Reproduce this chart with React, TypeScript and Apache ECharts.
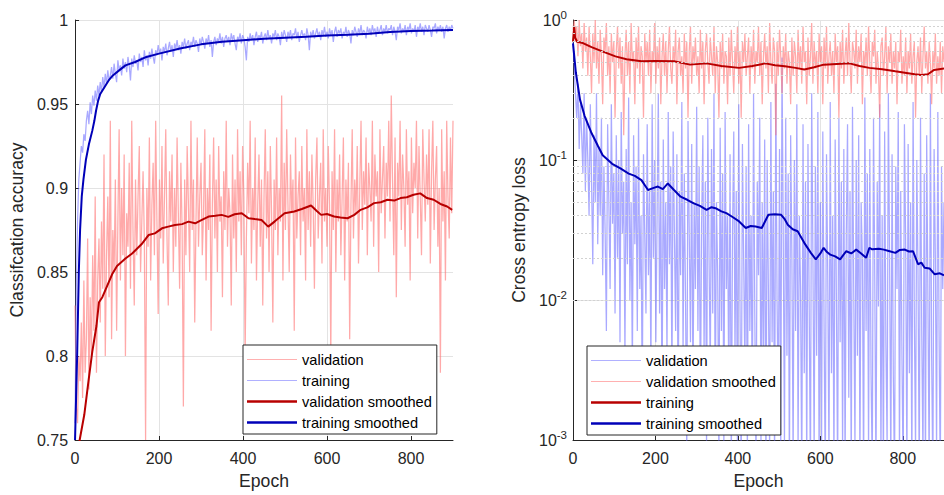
import React, { useEffect, useRef } from "react";
import * as echarts from "echarts";

const FONT = "'Liberation Sans', Arial, sans-serif";
const TXT = "#262626";

// x ticks shared by both panels
const epochTicks: number[] = [0, 200, 400, 600, 800];

// epochs of the raw (noisy) curves, sampled every 3 epochs (0..900)
const rawEpochs: number[] = Array.from({ length: 301 }, (_, i) => i * 3);

// ---------- left panel: classification accuracy (values in 1/1000) ----------
const accTrainPm: number[] = [
  760, 840, 880, 905, 915, 925, 921, 932, 928, 940,
  946, 938, 951, 944, 955, 949, 958, 952, 961, 955,
  963, 957, 966, 960, 968, 962, 970, 964, 967, 972,
  965, 974, 968, 963, 976, 970, 973, 967, 977, 971,
  975, 969, 978, 973, 964, 977, 972, 979, 974, 976,
  970, 980, 975, 978, 972, 982, 976, 979, 973, 981,
  977, 983, 978, 974, 982, 979, 985, 980, 983, 976,
  984, 981, 986, 979, 983, 987, 981, 985, 978, 986,
  983, 988, 982, 985, 980, 987, 984, 989, 983, 986,
  988, 982, 987, 985, 990, 984, 988, 986, 981, 989,
  985, 990, 987, 983, 989, 986, 991, 984, 988, 978,
  987, 990, 985, 989, 987, 992, 986, 990, 984, 989,
  991, 987, 990, 985, 992, 988, 991, 986, 982, 990,
  988, 992, 986, 991, 989, 984, 976, 990, 987, 992,
  988, 991, 985, 990, 993, 987, 991, 989, 993, 986,
  990, 992, 988, 994, 989, 991, 986, 992, 990, 994,
  988, 992, 990, 985, 993, 989, 994, 991, 987, 993,
  990, 994, 988, 992, 991, 995, 989, 993, 987, 991,
  994, 990, 992, 988, 995, 991, 982, 993, 990, 994,
  989, 992, 995, 990, 993, 988, 994, 991, 996, 990,
  993, 989, 995, 991, 994, 987, 993, 996, 990, 994,
  992, 995, 989, 993, 991, 996, 990, 994, 992, 986,
  994, 991, 996, 993, 990, 995, 992, 997, 991, 994,
  993, 989, 996, 992, 995, 991, 997, 993, 995, 990,
  996, 992, 994, 997, 991, 995, 993, 997, 992, 995,
  994, 997, 991, 996, 993, 988, 996, 994, 998, 992,
  995, 993, 997, 991, 996, 994, 998, 992, 995, 993,
  997, 990, 996, 994, 998, 993, 996, 991, 997, 995,
  993, 997, 994, 990, 996, 995, 998, 992, 996, 994,
  997, 993, 996, 989, 995, 997, 993, 996, 994, 997,
  995,
];

const accValPm: number[] = [
  830, 770, 760, 800, 785, 820, 775, 845, 790, 810,
  870, 780, 835, 800, 860, 815, 895, 790, 845, 870,
  820, 880, 840, 920, 800, 860, 895, 835, 940, 810,
  875, 850, 905, 815, 880, 935, 845, 900, 860, 920,
  800, 885, 865, 915, 840, 940, 875, 830, 905, 860,
  895, 925, 850, 880, 910, 870, 750, 900, 865, 930,
  845, 890, 915, 860, 940, 880, 825, 905, 870, 925,
  855, 895, 935, 870, 830, 910, 880, 920, 850, 900,
  865, 930, 885, 840, 915, 875, 770, 905, 860, 925,
  890, 850, 940, 875, 905, 820, 880, 930, 865, 895,
  915, 860, 885, 935, 845, 900, 875, 920, 815, 890,
  930, 870, 905, 850, 925, 880, 895, 835, 910, 875,
  940, 865, 900, 885, 830, 920, 870, 905, 850, 935,
  880, 910, 860, 925, 895, 800, 870, 915, 885, 940,
  855, 900, 875, 930, 845, 890, 920, 865, 905, 830,
  895, 935, 870, 910, 850, 925, 885, 820, 905, 875,
  930, 860, 900, 880, 955, 845, 915, 875, 935, 890,
  850, 920, 885, 905, 815, 930, 870, 895, 910, 860,
  925, 880, 900, 845, 935, 875, 910, 865, 920, 890,
  840, 905, 930, 870, 895, 915, 855, 935, 880, 900,
  865, 925, 890, 800, 910, 875, 935, 850, 905, 880,
  920, 860, 895, 930, 845, 905, 880, 915, 810, 890,
  935, 870, 905, 885, 925, 855, 900, 940, 875, 910,
  890, 930, 860, 915, 900, 880, 940, 865, 920, 895,
  910, 850, 935, 885, 905, 925, 870, 915, 895, 940,
  880, 955, 905, 860, 930, 835, 915, 895, 940, 875,
  920, 900, 865, 935, 890, 910, 845, 930, 885, 915,
  900, 940, 870, 925, 895, 860, 935, 905, 880, 920,
  890, 935, 855, 910, 940, 875, 905, 925, 865, 900,
  790, 935, 880, 910, 845, 940, 895, 870, 930, 885,
  940,
];

const accValSmEpochs: number[] = [
  8, 11, 22, 32, 41, 51, 57, 65, 77, 89, 100, 120, 136, 160, 175, 190, 207, 222, 238, 255,
  270, 286, 302, 318, 334, 349, 365, 380, 397, 413, 428, 444, 460, 475, 499, 522, 540, 562,
  575, 586, 600, 617, 632, 649, 665, 680, 696, 712, 728, 744, 760, 775, 790, 806, 822, 838,
  854, 870, 886, 898,
];
const accValSm: number[] = [
  0.74, 0.75, 0.765, 0.785, 0.8025, 0.818, 0.832, 0.835, 0.842, 0.849, 0.8536, 0.858, 0.861,
  0.867, 0.872, 0.873, 0.876, 0.877, 0.878, 0.8785, 0.88, 0.879, 0.881, 0.883, 0.8835, 0.884,
  0.8828, 0.8844, 0.885, 0.882, 0.8815, 0.881, 0.877, 0.88, 0.885, 0.886, 0.8875, 0.8896,
  0.8865, 0.884, 0.8845, 0.883, 0.8825, 0.882, 0.884, 0.887, 0.8885, 0.891, 0.8915, 0.893,
  0.8925, 0.894, 0.8945, 0.896, 0.8968, 0.894, 0.893, 0.8905, 0.889, 0.887,
];

const accTrainSmEpochs: number[] = [
  0, 5, 9, 12, 16, 20, 26, 33, 41, 46, 50, 55, 60, 70, 80, 90, 105, 120, 143, 170, 200,
  250, 300, 350, 400, 450, 500, 550, 600, 650, 700, 750, 800, 850, 900,
];
const accTrainSm: number[] = [
  0.75, 0.8, 0.85, 0.875, 0.895, 0.905, 0.917, 0.926, 0.934, 0.94, 0.946, 0.952, 0.956, 0.96,
  0.964, 0.967, 0.97, 0.973, 0.975, 0.978, 0.98, 0.983, 0.9855, 0.987, 0.988, 0.9888, 0.9895,
  0.99, 0.9908, 0.9912, 0.9918, 0.9928, 0.9935, 0.9937, 0.994,
];

// ---------- right panel: cross entropy loss ----------
const lossVal: number[] = [
  0.7, 0.45, 0.3, 0.2, 0.35, 0.12, 0.25, 0.15, 0.08, 0.3,
  0.06, 0.2, 0.1, 0.04, 0.25, 0.07, 0.018, 0.15, 0.05, 0.3,
  0.025, 0.12, 0.04, 0.2, 0.015, 0.09, 0.03, 0.006, 0.18, 0.05,
  0.012, 0.25, 0.035, 0.08, 0.008, 0.15, 0.02, 0.1, 0.005, 0.22,
  0.03, 0.07, 0.004, 0.12, 0.018, 0.28, 0.01, 0.05, 0.003, 0.15,
  0.025, 0.09, 0.006, 0.2, 0.012, 0.04, 0.0018, 0.11, 0.03, 0.008,
  0.18, 0.015, 0.06, 0.003, 0.25, 0.02, 0.1, 0.005, 0.04, 0.3,
  0.008, 0.07, 0.0015, 0.14, 0.012, 0.05, 0.004, 0.22, 0.018, 0.09,
  0.0025, 0.16, 0.03, 0.006, 0.11, 0.0012, 0.06, 0.015, 0.26, 0.004,
  0.08, 0.01, 0.0008, 0.19, 0.03, 0.005, 0.13, 0.002, 0.05, 0.012,
  0.24, 0.006, 0.09, 0.0015, 0.035, 0.15, 0.004, 0.07, 0.0009, 0.2,
  0.02, 0.003, 0.12, 0.008, 0.3, 0.0012, 0.05, 0.015, 0.0007, 0.17,
  0.006, 0.08, 0.0009, 0.22, 0.012, 0.04, 0.002, 0.11, 0.0006, 0.03,
  0.16, 0.004, 0.06, 0.0008, 0.25, 0.01, 0.0005, 0.13, 0.02, 0.003,
  0.09, 0.0007, 0.18, 0.006, 0.04, 0.0012, 0.3, 0.008, 0.0006, 0.07,
  0.015, 0.2, 0.0009, 0.05, 0.003, 0.14, 0.0005, 0.1, 0.012, 0.0008,
  0.26, 0.005, 0.06, 0.0006, 0.35, 0.01, 0.0015, 0.12, 0.0007, 0.54,
  0.03, 0.0009, 0.2, 0.004, 0.08, 0.0005, 0.15, 0.02, 0.0007, 0.1,
  0.006, 0.25, 0.0008, 0.04, 0.012, 0.0005, 0.18, 0.003, 0.07, 0.0006,
  0.13, 0.009, 0.0005, 0.3, 0.02, 0.0008, 0.09, 0.004, 0.22, 0.0006,
  0.05, 0.0009, 0.16, 0.007, 0.0005, 0.11, 0.015, 0.0007, 0.26, 0.003,
  0.04, 0.0006, 0.14, 0.01, 0.0005, 0.2, 0.005, 0.07, 0.0008, 0.12,
  0.0006, 0.03, 0.18, 0.002, 0.06, 0.0005, 0.24, 0.012, 0.0009, 0.1,
  0.004, 0.15, 0.0006, 0.05, 0.02, 0.0005, 0.28, 0.006, 0.08, 0.0008,
  0.12, 0.003, 0.0006, 0.2, 0.015, 0.0005, 0.07, 0.009, 0.25, 0.0007,
  0.04, 0.0005, 0.16, 0.005, 0.0009, 0.3, 0.02, 0.0006, 0.11, 0.003,
  0.0005, 0.09, 0.012, 0.22, 0.0007, 0.06, 0.004, 0.0005, 0.18, 0.025,
  0.0006, 0.13, 0.003, 0.05, 0.0005, 0.26, 0.008, 0.0008, 0.1, 0.015,
  0.0005, 0.2, 0.006, 0.0007, 0.08, 0.0005, 0.15, 0.01, 0.0006, 0.3,
  0.004, 0.0005, 0.12, 0.02, 0.0008, 0.22, 0.006, 0.0005, 0.09, 0.012,
  0.05,
];

const lossValSmooth: number[] = [
  0.85, 1.0, 0.7, 0.9, 0.55, 1.0, 0.65, 0.8, 0.45, 0.95,
  0.6, 0.75, 0.4, 0.9, 0.55, 0.3, 0.8, 0.5, 1.0, 0.45,
  0.7, 0.35, 0.85, 0.55, 0.25, 0.75, 0.6, 0.95, 0.4, 0.65,
  0.3, 0.8, 0.5, 0.7, 0.2, 0.6, 0.9, 0.45, 0.75, 0.35,
  0.65, 0.15, 0.55, 0.85, 0.4, 0.7, 0.3, 0.95, 0.5, 0.6,
  0.25, 0.75, 0.45, 0.9, 0.35, 0.65, 0.55, 0.2, 0.8, 0.5,
  0.7, 0.4, 0.85, 0.3, 0.6, 0.5, 0.95, 0.35, 0.65, 0.45,
  0.75, 0.25, 0.55, 0.8, 0.4, 0.7, 0.3, 0.6, 0.9, 0.45,
  0.35, 0.65, 0.5, 0.85, 0.25, 0.6, 0.75, 0.4, 0.55, 0.3,
  0.8, 0.45, 0.7, 0.2, 0.6, 0.9, 0.35, 0.65, 0.5, 0.75,
  0.4, 0.55, 0.3, 0.85, 0.45, 0.7, 0.25, 0.6, 0.8, 0.5,
  0.35, 0.75, 0.55, 0.4, 0.9, 0.3, 0.65, 0.5, 0.2, 0.7,
  0.45, 0.8, 0.35, 0.6, 0.55, 0.25, 0.75, 0.4, 0.85, 0.5,
  0.3, 0.65, 0.45, 0.9, 0.35, 0.6, 0.2, 0.7, 0.5, 0.8,
  0.4, 0.55, 0.75, 0.3, 0.65, 0.45, 0.85, 0.35, 0.6, 0.5,
  0.9, 0.4, 0.7, 0.25, 0.55, 0.8, 0.45, 0.65, 0.3, 0.95,
  0.5, 0.35, 0.75, 0.6, 0.15, 0.7, 0.4, 0.85, 0.55, 0.3,
  0.65, 0.45, 0.8, 0.35, 0.6, 0.5, 0.25, 0.75, 0.4, 0.7,
  0.55, 0.3, 0.85, 0.45, 0.65, 0.35, 0.9, 0.5, 0.6, 0.25,
  0.75, 0.4, 0.55, 0.95, 0.35, 0.7, 0.45, 0.6, 0.3, 0.8,
  0.5, 0.65, 0.25, 0.75, 0.45, 0.9, 0.35, 0.55, 0.7, 0.4,
  0.6, 0.3, 0.8, 0.5, 0.65, 0.2, 0.7, 0.45, 0.85, 0.35,
  0.55, 0.75, 0.4, 0.95, 0.5, 0.3, 0.7, 0.6, 0.45, 0.85,
  0.35, 0.65, 0.5, 0.8, 0.25, 0.6, 0.45, 0.75, 0.4, 0.9,
  0.5, 0.3, 0.7, 0.55, 0.85, 0.35, 0.6, 0.45, 0.2, 0.65,
  0.75, 0.4, 0.55, 0.9, 0.3, 0.65, 0.5, 0.8, 0.35, 0.6,
  0.45, 0.7, 0.25, 0.6, 0.5, 0.85, 0.35, 0.55, 0.4, 0.75,
  0.3, 0.6, 0.45, 0.8, 0.35, 0.55, 0.7, 0.2, 0.5, 0.65,
  0.4, 0.75, 0.3, 0.55, 0.9, 0.45, 0.6, 0.35, 0.7, 0.5,
  0.25, 0.6, 0.45, 0.8, 0.35, 0.55, 0.4, 0.7, 0.3, 0.65,
  0.5,
];

const lossTrainEpochs: number[] = [
  0, 3, 5, 10, 24, 45, 71, 103, 130, 166, 200, 245, 284, 324, 360, 403, 435, 467, 490, 514,
  540, 561, 585, 608, 640, 671, 695, 719, 750, 782, 805, 829, 845, 861, 876, 900,
];
const lossTrain: number[] = [
  0.7, 0.9, 0.75, 0.7, 0.684, 0.64, 0.597, 0.55, 0.525, 0.507, 0.51, 0.507, 0.48, 0.49, 0.47,
  0.455, 0.47, 0.49, 0.475, 0.467, 0.455, 0.443, 0.46, 0.48, 0.485, 0.49, 0.47, 0.455, 0.445,
  0.43, 0.42, 0.41, 0.405, 0.41, 0.44, 0.45,
];

const lossTrainSmEpochs: number[] = [
  0, 7, 17, 28, 44, 60, 72, 95, 115, 135, 150, 166, 182, 194, 206, 218, 230, 245, 261, 277,
  293, 308, 324, 336, 348, 360, 372, 388, 403, 419, 431, 443, 458, 474, 490, 505, 513, 521,
  533, 545, 561, 577, 589, 600, 608, 616, 624, 636, 648, 656, 663, 675, 687, 699, 711, 719,
  726, 742, 754, 766, 782, 793, 805, 815, 825, 837, 845, 853, 865, 877, 890, 900,
];
const lossTrainSm: number[] = [
  0.68, 0.42, 0.27, 0.207, 0.158, 0.127, 0.108, 0.094, 0.087, 0.08, 0.077, 0.0718, 0.061,
  0.063, 0.0646, 0.062, 0.068, 0.061, 0.0547, 0.052, 0.049, 0.047, 0.044, 0.046, 0.045, 0.043,
  0.0417, 0.039, 0.0364, 0.0327, 0.0338, 0.0335, 0.0327, 0.0406, 0.041, 0.0406, 0.038, 0.0345,
  0.032, 0.031, 0.0256, 0.0217, 0.0195, 0.0215, 0.0236, 0.022, 0.0211, 0.0205, 0.0195, 0.021,
  0.0223, 0.0215, 0.0229, 0.0215, 0.02, 0.0236, 0.023, 0.0232, 0.0229, 0.0224, 0.0217, 0.0228,
  0.0229, 0.0222, 0.0223, 0.018, 0.0185, 0.017, 0.0168, 0.0153, 0.0155, 0.015,
];

const logMinorGrid: number[] = [
  0.002, 0.003, 0.004, 0.005, 0.006, 0.007, 0.008, 0.009,
  0.02, 0.03, 0.04, 0.05, 0.06, 0.07, 0.08, 0.09,
  0.2, 0.3, 0.4, 0.5, 0.6, 0.7, 0.8, 0.9,
];

const LIGHT_RED = "#ff7070";
const LIGHT_BLUE = "#7070ff";
const DARK_RED = "#b80000";
const DARK_BLUE = "#0000b8";
const LIGHT_OPACITY = 0.6;
const LIGHT_WIDTH = 1.25;

const pair = (xs: number[], ys: number[]) => xs.map((x, i) => [x, ys[i]]);
const fromPm = (a: number[]) => a.map((v) => v / 1000);

const lineSeries = (name: string, data: number[][], color: string, width: number, opacity: number, z: number) => ({
  type: "line",
  name,
  data,
  symbol: "none",
  showSymbol: false,
  clip: true,
  z,
  lineStyle: { color, width, opacity },
  itemStyle: { color, opacity },
});

const THIN_ICON = "path://M0,0H50V1.2H0Z";
const THICK_ICON = "path://M0,0H50V2.4H0Z";

const legendItem = (name: string, color: string, thick: boolean) => ({
  name,
  icon: thick ? THICK_ICON : THIN_ICON,
  itemStyle: { color, opacity: thick ? 1 : 0.55 },
});

const legendCfg = (left: number, top: number, items: any[]) => ({
  orient: "vertical",
  left,
  top,
  padding: [7, 5, 4, 4],
  itemGap: 6,
  itemWidth: 50,
  itemHeight: 14,
  symbolKeepAspect: true,
  borderColor: TXT,
  borderWidth: 1,
  borderRadius: 0,
  backgroundColor: "#ffffff",
  textStyle: { fontSize: 14.6, lineHeight: 14, color: "#000", fontFamily: FONT },
  selectedMode: false,
  data: items,
});

const xAxisCfg = () => ({
  type: "value",
  min: 0,
  max: 900,
  interval: 200,
  name: "Epoch",
  nameLocation: "middle",
  nameGap: 32,
  nameTextStyle: { fontSize: 17.6, color: TXT, fontFamily: FONT },
  axisLine: { show: true, lineStyle: { color: TXT, width: 1 } },
  axisTick: { show: true, inside: true, length: 4, customValues: epochTicks, lineStyle: { color: TXT } },
  axisLabel: {
    color: TXT,
    fontSize: 16,
    margin: 10,
    fontFamily: FONT,
    showMaxLabel: false,
  },
  splitLine: { show: true, showMaxLine: false, lineStyle: { color: "#e3e3e3", width: 1 } },
});

function leftOption(): any {
  return {
    animation: false,
    textStyle: { fontFamily: FONT },
    grid: { left: 73, top: 20, width: 380, height: 424 },
    legend: legendCfg(243, 345, [
      legendItem("validation", LIGHT_RED, false),
      legendItem("training", LIGHT_BLUE, false),
      legendItem("validation smoothed", DARK_RED, true),
      legendItem("training smoothed", DARK_BLUE, true),
    ]),
    xAxis: xAxisCfg(),
    yAxis: {
      type: "value",
      min: 0.75,
      max: 1,
      interval: 0.05,
      name: "Classifcation accuracy",
      nameLocation: "middle",
      nameGap: 46,
      nameTextStyle: { fontSize: 17.6, color: TXT, fontFamily: FONT },
      axisLine: { show: true, lineStyle: { color: TXT, width: 1 } },
      axisTick: { show: true, inside: true, length: 4, lineStyle: { color: TXT } },
      axisLabel: {
        color: TXT,
        fontSize: 16,
        margin: 7,
        fontFamily: FONT,
        formatter: (v: number) => String(+v.toFixed(2)),
      },
      splitLine: { show: true, lineStyle: { color: "#e3e3e3", width: 1 } },
    },
    series: [
      lineSeries("validation", pair(rawEpochs, fromPm(accValPm)), LIGHT_RED, LIGHT_WIDTH, LIGHT_OPACITY, 2),
      lineSeries("training", pair(rawEpochs, fromPm(accTrainPm)), LIGHT_BLUE, LIGHT_WIDTH, LIGHT_OPACITY, 3),
      lineSeries("validation smoothed", pair(accValSmEpochs, accValSm), DARK_RED, 2, 1, 4),
      lineSeries("training smoothed", pair(accTrainSmEpochs, accTrainSm), DARK_BLUE, 2, 1, 5),
    ],
  };
}

function rightOption(): any {
  const first = lineSeries("validation", pair(rawEpochs, lossVal), LIGHT_BLUE, LIGHT_WIDTH, LIGHT_OPACITY, 2) as any;
  first.markLine = {
    silent: true,
    symbol: "none",
    animation: false,
    label: { show: false },
    lineStyle: { color: "#d2d2d2", type: [2, 2], width: 1 },
    data: logMinorGrid.map((v) => ({ yAxis: v })),
  };
  return {
    animation: false,
    textStyle: { fontFamily: FONT },
    grid: { left: 101, top: 20, width: 380, height: 424 },
    legend: legendCfg(115, 346, [
      legendItem("validation", LIGHT_BLUE, false),
      legendItem("validation smoothed", LIGHT_RED, false),
      legendItem("training", DARK_RED, true),
      legendItem("training smoothed", DARK_BLUE, true),
    ]),
    xAxis: xAxisCfg(),
    yAxis: {
      type: "log",
      logBase: 10,
      min: 0.001,
      max: 1,
      name: "Cross entropy loss",
      nameLocation: "middle",
      nameGap: 43,
      nameTextStyle: { fontSize: 17.6, color: TXT, fontFamily: FONT },
      axisLine: { show: true, lineStyle: { color: TXT, width: 1 } },
      axisTick: { show: true, inside: true, length: 4, lineStyle: { color: TXT } },
      axisLabel: {
        margin: 6,
        formatter: (v: number) => {
          const e = Math.round(Math.log10(v));
          return "{b|10}{s|" + e + "}";
        },
        rich: {
          b: { fontSize: 16, color: TXT, fontFamily: FONT, lineHeight: 22 },
          s: { fontSize: 11.5, color: TXT, fontFamily: FONT, lineHeight: 12, verticalAlign: "top" },
        },
      },
      splitLine: { show: true, lineStyle: { color: "#e3e3e3", width: 1 } },
    },
    series: [
      first,
      lineSeries("validation smoothed", pair(rawEpochs, lossValSmooth), LIGHT_RED, LIGHT_WIDTH, LIGHT_OPACITY, 3),
      lineSeries("training", pair(lossTrainEpochs, lossTrain), DARK_RED, 2, 1, 4),
      lineSeries("training smoothed", pair(lossTrainSmEpochs, lossTrainSm), DARK_BLUE, 2, 1, 5),
    ],
  };
}

function Panel({ left, option }: { left: number; option: any }) {
  const ref = useRef<HTMLDivElement>(null);
  useEffect(() => {
    if (!ref.current) return;
    const chart = echarts.init(ref.current, undefined, { renderer: "svg" });
    chart.setOption(option);
    return () => chart.dispose();
  }, []);
  return (
    <div
      ref={ref}
      style={{ position: "absolute", left, top: 0, width: 472, height: 495 }}
    />
  );
}

export default function App() {
  useEffect(() => {
    document.body.style.margin = "0";
  }, []);
  return (
    <div style={{ position: "relative", width: 944, height: 495, overflow: "hidden", background: "#fff" }}>
      <Panel left={0} option={leftOption()} />
      <Panel left={472} option={rightOption()} />
    </div>
  );
}
